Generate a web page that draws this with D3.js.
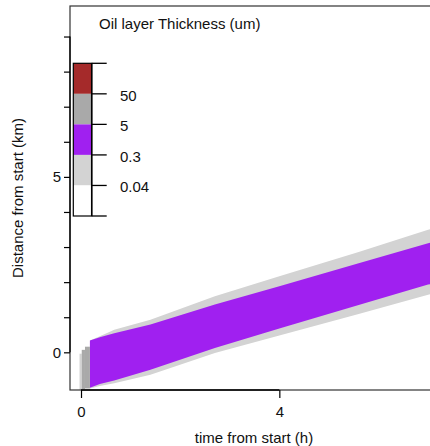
<!DOCTYPE html>
<html><head><meta charset="utf-8">
<script src="https://cdn.jsdelivr.net/npm/d3@7"></script>
<style>
body{margin:0;background:#fff}
svg{display:block}
text{font-family:"Liberation Sans",Arial,sans-serif;fill:#111;font-size:15px}
</style>
</head><body><svg id="chart" width="430" height="446"></svg>
<script>
// hours since release
const timeH = [0.18, 0.38, 0.67, 1.4, 2.7, 4.0, 5.6, 7.0, 7.3];
// slick edges along track (km): thin sheen 0.04-0.3 um (outer) and 0.3-5 um layer (inner)
const outerLowKm  = [-1.03, -0.96, -0.88, -0.64, -0.02, 0.48, 1.09, 1.64, 1.74];
const innerLowKm  = [-1.01, -0.90, -0.80, -0.50, 0.12, 0.68, 1.35, 1.93, 2.03];
const innerHighKm = [0.34, 0.43, 0.54, 0.79, 1.36, 1.88, 2.54, 3.11, 3.23];
const outerHighKm = [0.34, 0.46, 0.64, 0.93, 1.60, 2.17, 2.86, 3.49, 3.61];
// first output steps, before the slick spreads out
const earlyStartH = [-0.03, 0.015, 0.08];
const earlyEndH   = [0.015, 0.08, 0.18];
const earlyLowKm  = [-1.08, -1.06, -1.03];
const earlyHighKm = [-0.04, 0.07, 0.16];
const earlyClass  = [1, 3, 3];
// thickness classes, thinnest first, and the limits between them (um)
const thicknessColors = ["#ffffff", "#d3d3d3", "#a020f0", "#a9a9a9", "#a52a2a"];
const thicknessBreaks = ["0.04", "0.3", "5", "50"];
const xTicks = [0, 4];
const yTicks = [0, 1, 2, 3, 4, 5, 6, 7, 8, 9];
const yTickLabels = [0, 5];

const svg = d3.select("#chart");
const plot = {left: 70, top: 6, right: 438, bottom: 390};

const x = d3.scaleLinear().domain([-0.222, 7.2]).range([plot.left, plot.right]);
const y = d3.scaleLinear().domain([-1.074, 9.87]).range([plot.bottom, plot.top]);

svg.append("clipPath").attr("id", "plotClip")
  .append("rect").attr("x", plot.left).attr("y", plot.top)
  .attr("width", plot.right - plot.left).attr("height", plot.bottom - plot.top);

const g = svg.append("g").attr("clip-path", "url(#plotClip)");

const rows = timeH.map((t, i) => ({t, ol: outerLowKm[i], il: innerLowKm[i], ih: innerHighKm[i], oh: outerHighKm[i]}));

g.append("path").datum(rows)
  .attr("fill", thicknessColors[1])
  .attr("d", d3.area().x(d => x(d.t)).y0(d => y(d.ol)).y1(d => y(d.oh)));
g.append("path").datum(rows)
  .attr("fill", thicknessColors[2])
  .attr("d", d3.area().x(d => x(d.t)).y0(d => y(d.il)).y1(d => y(d.ih)));

g.selectAll("rect.early").data(earlyStartH.map((s, i) => ({s, e: earlyEndH[i], lo: earlyLowKm[i], hi: earlyHighKm[i], c: earlyClass[i]})))
  .join("rect").attr("class", "early")
  .attr("x", d => x(d.s)).attr("width", d => x(d.e) - x(d.s))
  .attr("y", d => y(d.hi)).attr("height", d => y(d.lo) - y(d.hi))
  .attr("fill", d => thicknessColors[d.c]);

// frame
svg.append("rect").attr("x", plot.left).attr("y", plot.top)
  .attr("width", plot.right - plot.left).attr("height", plot.bottom - plot.top)
  .attr("fill", "none").attr("stroke", "#333").attr("stroke-width", 1.2);

// x axis
const xAxis = svg.append("g").attr("transform", `translate(0,${plot.bottom})`)
  .call(d3.axisBottom(x).tickValues(xTicks).tickSize(8).tickPadding(8).tickFormat(d3.format("d")));
xAxis.select(".domain").attr("d", `M${x(xTicks[0])},0H${x(xTicks[xTicks.length - 1])}`)
  .attr("stroke", "#000").attr("stroke-width", 1.3);
xAxis.selectAll(".tick line").attr("stroke", "#000").attr("stroke-width", 1.2);
xAxis.selectAll(".tick text").attr("font-size", 15).attr("fill", "#111").attr("font-family", null);

// y axis
const yAxis = svg.append("g").attr("transform", `translate(${plot.left},0)`)
  .call(d3.axisLeft(y).tickValues(yTicks).tickSize(6).tickPadding(3)
    .tickFormat(d => yTickLabels.includes(d) ? d : ""));
yAxis.select(".domain").attr("d", `M0,${y(yTicks[0])}V${y(yTicks[yTicks.length - 1])}`)
  .attr("stroke", "#000").attr("stroke-width", 1.3);
yAxis.selectAll(".tick line").attr("stroke", "#000").attr("stroke-width", 1.2);
yAxis.selectAll(".tick text").attr("font-size", 15).attr("fill", "#111").attr("font-family", null);

// axis titles
svg.append("text").attr("x", (plot.left + plot.right) / 2).attr("y", 443)
  .attr("text-anchor", "middle").text("time from start (h)");
svg.append("text").attr("transform", `translate(22.5,${(plot.top + plot.bottom) / 2}) rotate(-90)`)
  .attr("text-anchor", "middle").text("Distance from start (km)");

// legend
svg.append("text").attr("x", 99).attr("y", 28.5).text("Oil layer Thickness (um)");

const classIdx = d3.range(thicknessColors.length).reverse();
const band = d3.scaleBand().domain(classIdx).range([63.3, 216]);
const legend = svg.append("g");
legend.selectAll("rect").data(classIdx).join("rect")
  .attr("x", 73.3).attr("width", 18.4)
  .attr("y", d => band(d)).attr("height", band.bandwidth())
  .attr("fill", d => thicknessColors[d]);
legend.append("rect").attr("x", 73.3).attr("y", 63.3).attr("width", 18.4).attr("height", 216 - 63.3)
  .attr("fill", "none").attr("stroke", "#000").attr("stroke-width", 1.2);
legend.append("line").attr("x1", 91.7).attr("x2", 91.7).attr("y1", 63.3).attr("y2", 216)
  .attr("stroke", "#000").attr("stroke-width", 1.5);
const edges = classIdx.map(d => band(d)).concat([216]);
legend.selectAll("line.tk").data(edges).join("line").attr("class", "tk")
  .attr("x1", 91.7).attr("x2", 106.7).attr("y1", d => d).attr("y2", d => d)
  .attr("stroke", "#000").attr("stroke-width", 1.3);
legend.selectAll("text.lab").data(thicknessBreaks).join("text").attr("class", "lab")
  .attr("x", 120).attr("y", (d, i) => band(i) + 7).text(d => d);
</script>
</body></html>
